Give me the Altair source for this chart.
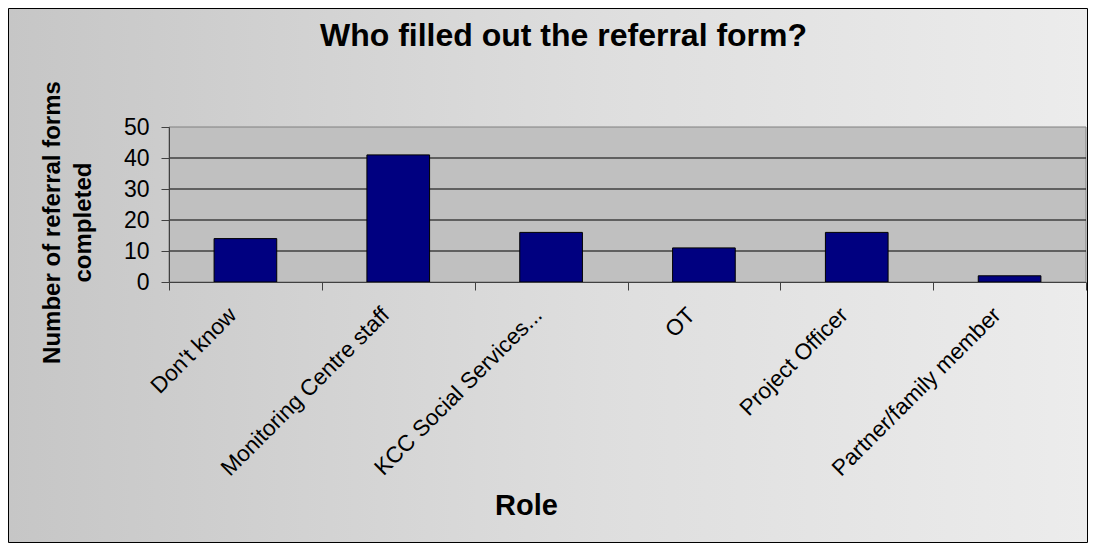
import altair as alt
import pandas as pd

# ---- data ----
roles = ["Don't know", "Monitoring Centre staff", "KCC Social Services...",
         "OT", "Project Officer", "Partner/family member"]
counts = [14, 41, 16, 11, 16, 2]
grid_values = [10, 20, 30, 40]
y_ticks = [0, 10, 20, 30, 40, 50]

FONT = "Liberation Sans"
W, H = 917, 155
PAD = {"left": 161, "top": 119, "right": 2, "bottom": 261}

bars_df = pd.DataFrame({"role": roles, "count": counts})
grid_df = pd.DataFrame({"count": grid_values})
one = pd.DataFrame({"k": [0]})

gradient = alt.Gradient(
    gradient="linear",
    stops=[alt.GradientStop(color="#c6c6c6", offset=0),
           alt.GradientStop(color="#dedede", offset=0.55),
           alt.GradientStop(color="#ececec", offset=1)],
    x1=0, x2=1, y1=0, y2=0,
)

yscale = alt.Scale(domain=[0, 50], nice=False)

y_axis = alt.Axis(
    values=y_ticks,
    title=["Number of referral forms", "completed"],
    titleFont=FONT, titleFontSize=24, titleFontWeight="bold", titleColor="black",
    titleAngle=270, titleAlign="center", titleBaseline="middle",
    titleX=-117, titleY=95, titleLineHeight=31,
    labelFont=FONT, labelFontSize=23, labelColor="black", labelPadding=12,
    tickSize=8, tickColor="#404040", domainColor="#404040",
    grid=False, zindex=1,
)

x_axis = alt.Axis(
    title="Role", titleFont=FONT, titleFontSize=29, titleFontWeight="bold",
    titleColor="black", titleX=357, titleY=232, titleAlign="center",
    titleBaseline="alphabetic",
    labelAngle=315, labelAlign="right", labelBaseline="middle",
    labelFont=FONT, labelFontSize=22.5, labelColor="black",
    labelPadding=21, labelOffset=-13, labelLimit=400,
    tickBand="extent", tickSize=8, tickColor="#404040",
    domainColor="#404040", grid=False, zindex=1,
)

bg = alt.Chart(one).mark_rect(fill=gradient, stroke="black", strokeWidth=1).encode(
    x=alt.value(-PAD["left"] + 0.5), x2=alt.value(W + PAD["right"] - 0.5),
    y=alt.value(-PAD["top"] + 0.5), y2=alt.value(H + PAD["bottom"] - 0.5),
)

plot_bg = alt.Chart(one).mark_rect(fill="#c0c0c0", stroke="#808080", strokeWidth=1).encode(
    x=alt.value(0), x2=alt.value(W), y=alt.value(0), y2=alt.value(H),
)

grid = alt.Chart(grid_df).mark_rule(color="black", strokeWidth=1).encode(
    y=alt.Y("count:Q", scale=yscale, axis=y_axis),
)

bars = alt.Chart(bars_df).mark_bar(
    color="#000080", stroke="black", strokeWidth=1,
    width=alt.RelativeBandSize(0.41),
).encode(
    x=alt.X("role:N", sort=roles,
            scale=alt.Scale(paddingInner=0, paddingOuter=0),
            axis=x_axis),
    y=alt.Y("count:Q", scale=yscale, axis=y_axis),
)

chart = alt.layer(bg, plot_bg, grid, bars).properties(
    width=W, height=H,
    padding=PAD,
    autosize=alt.AutoSizeParams(type="none"),
    title=alt.TitleParams(
        text="Who filled out the referral form?", font=FONT, fontSize=32,
        fontWeight="bold", color="black", anchor="middle", dx=-64,
        offset=0, dy=70, baseline="alphabetic",
    ),
).configure_view(stroke=None).configure(background="white")

chart.save("out.html", embed_options={"renderer": "svg", "actions": False})
